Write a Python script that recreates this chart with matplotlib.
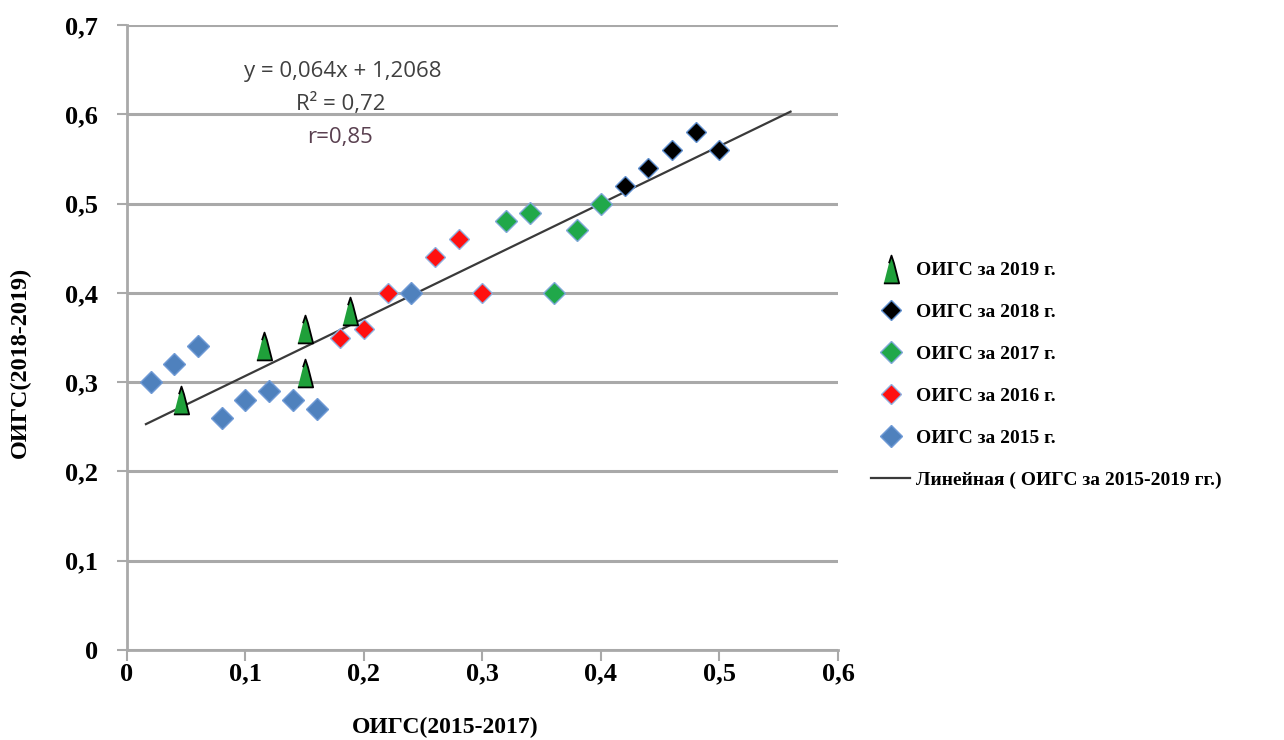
import matplotlib
matplotlib.use('Agg')
import matplotlib.pyplot as plt
import numpy as np

# data
x2015 = [0.02, 0.04, 0.06, 0.08, 0.10, 0.12, 0.14, 0.16, 0.24]
y2015 = [0.30, 0.32, 0.34, 0.26, 0.28, 0.29, 0.28, 0.27, 0.40]
x2016 = [0.18, 0.20, 0.22, 0.26, 0.28, 0.30]
y2016 = [0.35, 0.36, 0.40, 0.44, 0.46, 0.40]
x2017 = [0.32, 0.34, 0.36, 0.38, 0.40]
y2017 = [0.48, 0.49, 0.40, 0.47, 0.50]
x2018 = [0.42, 0.44, 0.46, 0.48, 0.50]
y2018 = [0.52, 0.54, 0.56, 0.58, 0.56]
x2019 = [0.046, 0.116, 0.15, 0.15, 0.188]
y2019 = [0.28, 0.34, 0.36, 0.31, 0.38]
trend_x = [0.016, 0.56]
trend_y = [0.253, 0.603]

ticks_x = [0, 0.1, 0.2, 0.3, 0.4, 0.5, 0.6]
ticks_y = [0, 0.1, 0.2, 0.3, 0.4, 0.5, 0.6, 0.7]
labels_x = ['0', '0,1', '0,2', '0,3', '0,4', '0,5', '0,6']
labels_y = ['0', '0,1', '0,2', '0,3', '0,4', '0,5', '0,6', '0,7']

serif = 'Liberation Serif'
gridc = '#a9a9a9'

fig = plt.figure(figsize=(12.84, 7.4), dpi=100)
ax = fig.add_axes([0.0989, 0.1216, 0.5537, 0.8446])

tri = [(-0.55, -1), (0.55, -1), (0.18, 0.45), (0, 1), (-0.18, 0.45)]

ax.plot(trend_x, trend_y, '-', color='#3a3a3a', lw=1.6, zorder=2,
        label='Линейная ( ОИГС за 2015-2019 гг.)')
ax.plot(x2015, y2015, 'D', ms=11, color='#4f81bd', mec='#6f9ad6', mew=1, ls='none', zorder=3,
        label='ОИГС за 2015 г.')
ax.plot(x2016, y2016, 'D', ms=10, color='#ff1010', mec='#8fb0e0', mew=1, ls='none', zorder=3,
        label='ОИГС за 2016 г.')
ax.plot(x2017, y2017, 'D', ms=11, color='#20a84a', mec='#7fa8d8', mew=1, ls='none', zorder=3,
        label='ОИГС за 2017 г.')
ax.plot(x2018, y2018, 'D', ms=10, color='#000000', mec='#5f8fcf', mew=1, ls='none', zorder=3,
        label='ОИГС за 2018 г.')
ax.plot(x2019, y2019, marker=tri, ms=20, color='#1fa03a', mec='#000000', mew=1.3, ls='none', zorder=4,
        label='ОИГС за 2019 г.')

ax.set_xlim(0, 0.6)
ax.set_ylim(0, 0.7)
ax.set_xticks(ticks_x)
ax.set_xticklabels(labels_x)
ax.set_yticks(ticks_y)
ax.set_yticklabels(labels_y)
for t in ax.get_xticklabels() + ax.get_yticklabels():
    t.set_fontfamily(serif)
    t.set_fontweight('bold')
    t.set_fontsize(19)
ax.tick_params(axis='x', length=8, width=1.5, color=gridc, pad=1)
ax.tick_params(axis='y', length=7, width=1.5, color=gridc, pad=14)

ax.grid(axis='y', color=gridc, lw=2.2)
ax.set_axisbelow(True)
for s in ['top', 'right']:
    ax.spines[s].set_visible(False)
for s in ['left', 'bottom']:
    ax.spines[s].set_color(gridc)
    ax.spines[s].set_linewidth(2)

ax.text(0.182, 0.648, 'y = 0,064x + 1,2068', fontsize=16, family='Open Sans', color='#404040', ha='center', va='center')
ax.text(0.180, 0.612, 'R² = 0,72', fontsize=16, family='Open Sans', color='#404040', ha='center', va='center')
ax.text(0.180, 0.574, 'r=0,85', fontsize=16, family='Open Sans', color='#5a4050', ha='center', va='center')

fig.text(0.347, 0.002, 'ОИГС(2015-2017)', family=serif, weight='bold', fontsize=17, ha='center', va='bottom')
fig.text(0.016, 0.51, 'ОИГС(2018-2019)', family=serif, weight='bold', fontsize=17.5, rotation=90, ha='center', va='center')

h, l = ax.get_legend_handles_labels()
order = [5, 4, 3, 2, 1, 0]
fig.legend([h[i] for i in order], [l[i] for i in order], loc='upper left',
           bbox_to_anchor=(0.665, 0.67), frameon=False, prop={'family': serif, 'weight': 'bold', 'size': 14},
           labelspacing=1.25, handlelength=2.0, handletextpad=0.3)

plt.savefig('out.png', dpi=100)
